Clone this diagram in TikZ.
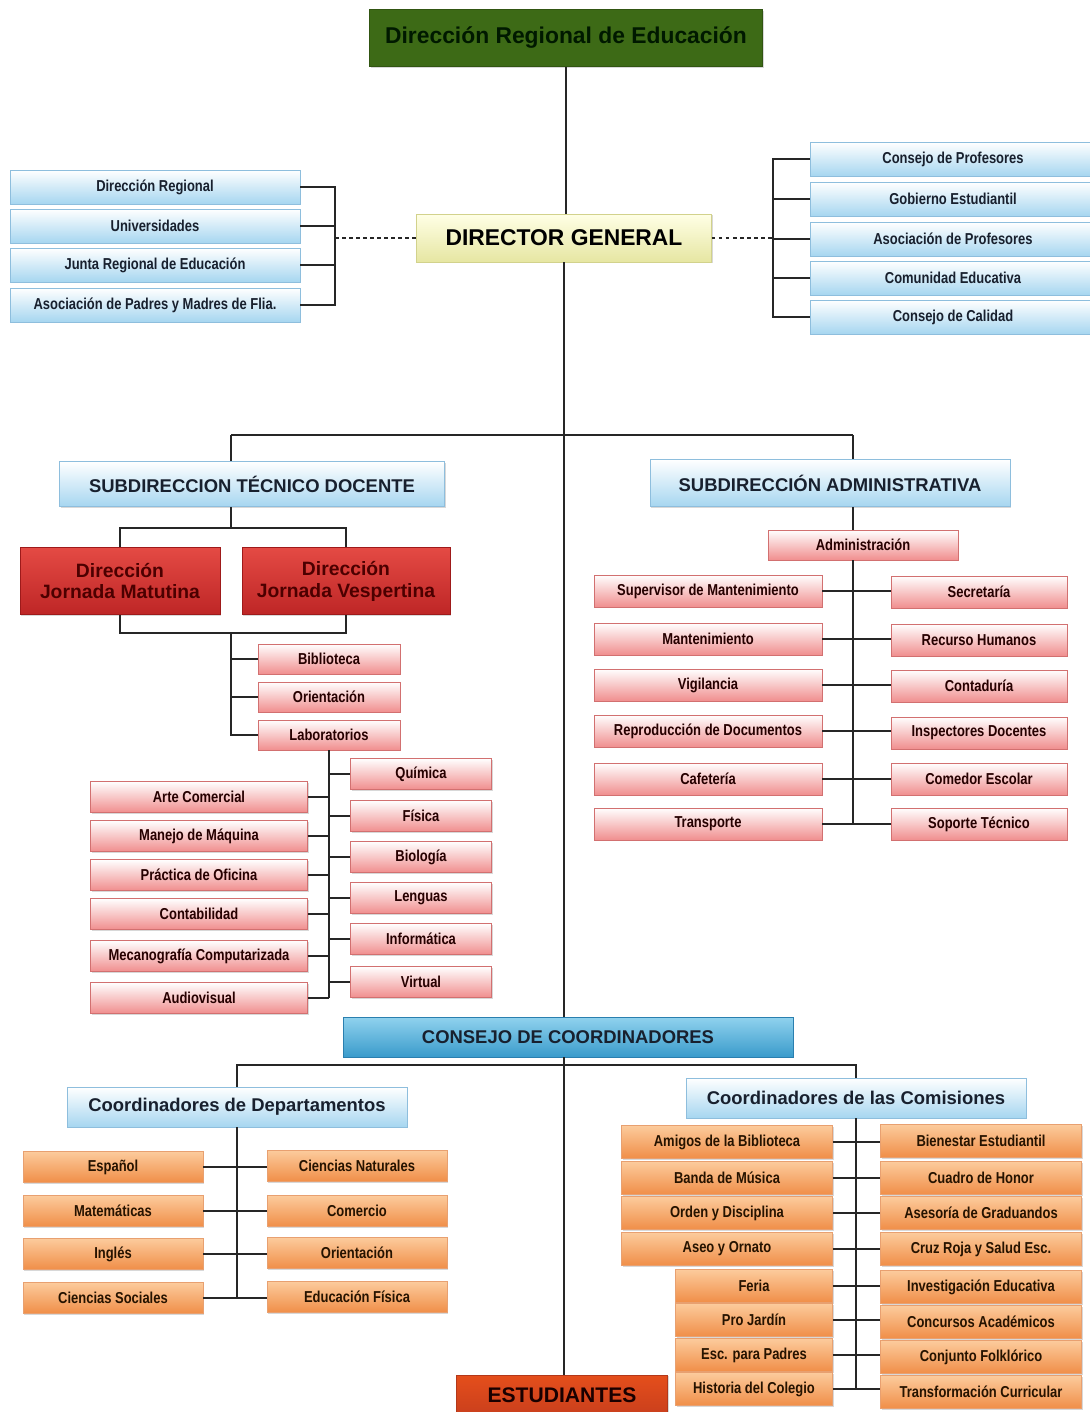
\documentclass[tikz,border=0pt]{standalone}
\usepackage{fontspec}
\setmainfont{Liberation Sans}
\newfontfamily\narrowsf[FakeStretch=0.82]{Liberation Sans}
\usepackage{tikz}
\usetikzlibrary{shadows}

\definecolor{greendark}{HTML}{3D6A16}
\definecolor{greenlight}{HTML}{8CC04A}
\definecolor{yellowlow}{HTML}{E6E6A2}
\definecolor{yellowedge}{HTML}{D2D28C}
\definecolor{skylow}{HTML}{A6D6F0}
\definecolor{skyedge}{HTML}{8EBEDD}
\definecolor{seatop}{HTML}{90D2EE}
\definecolor{sealow}{HTML}{3A9BCB}
\definecolor{seaedge}{HTML}{2A7FAF}
\definecolor{redtop}{HTML}{E44A44}
\definecolor{redlow}{HTML}{BE2626}
\definecolor{rededge}{HTML}{9E1A1A}
\definecolor{pinklow}{HTML}{F08E8E}
\definecolor{pinkedge}{HTML}{D27070}
\definecolor{orangetop}{HTML}{FCCB9C}
\definecolor{orangelow}{HTML}{F08E48}
\definecolor{orangeedge}{HTML}{E8A070}
\definecolor{brick}{HTML}{E04620}
\definecolor{navytext}{HTML}{18202E}

\begin{document}
\begin{tikzpicture}[
  x=0.02cm, y=-0.02cm,
  box/.style={
      rectangle,
      draw,
      text centered,
      align=center,
      inner sep=0pt,
      line width=0.5pt,
      drop shadow={opacity=0.3, shadow xshift=0.8pt, shadow yshift=-0.8pt}
  },
  small/.style={
      box,
      font=\narrowsf\bfseries\fontsize{9}{10}\selectfont
  },
  skybox/.style={
      box,
      draw=skyedge,
      top color=white,
      bottom color=skylow,
      text=navytext
  },
  skysmall/.style={
      skybox,
      small
  },
  pinkbox/.style={
      small,
      draw=pinkedge,
      top color=white,
      bottom color=pinklow,
      text=black!85!red
  },
  orangebox/.style={
      small,
      draw=orangeedge,
      top color=orangetop,
      bottom color=orangelow,
      text=black!85!orange
  },
  redbox/.style={
      box,
      draw=rededge,
      top color=redtop,
      bottom color=redlow,
      text=red!30!black,
      font=\bfseries\fontsize{11}{12.5}\selectfont
  },
  link/.style={
      line width=0.7pt,
      black!85
  },
  dots/.style={
      link,
      dash pattern=on 2pt off 2pt
  }
]

\path[use as bounding box, fill=white] (0,0) rectangle (1089,1412);

% ==================================================
% Top : Regional Office and Director
% ==================================================

\node[
    box,
    draw=greendark!80!black,
    top color=greendark,
    middle color=greenlight,
    bottom color=greendark,
    text=green!10!black,
    minimum width=7.86cm,
    minimum height=1.14cm,
    font=\bfseries\fontsize{13}{15}\selectfont
] (regional) at (566,38)
{Dirección Regional de Educación};

\node[
    box,
    draw=yellowedge,
    top color=white!90!yellow,
    bottom color=yellowlow,
    text=black,
    minimum width=5.9cm,
    minimum height=0.96cm,
    font=\bfseries\fontsize{13}{15}\selectfont
] (director) at (564,238)
{DIRECTOR GENERAL};

% external bodies, left
\node[skysmall, minimum width=5.8cm, minimum height=0.68cm] (dreg) at (155,187) {Dirección Regional};
\node[skysmall, minimum width=5.8cm, minimum height=0.68cm] (univ) at (155,226) {Universidades};
\node[skysmall, minimum width=5.8cm, minimum height=0.68cm] (junta) at (155,265) {Junta Regional de Educación};
\node[skysmall, minimum width=5.8cm, minimum height=0.68cm] (apmf) at (155,305) {Asociación de Padres y Madres de Flia.};

% external bodies, right
\node[skysmall, minimum width=5.7cm, minimum height=0.68cm] (cprof) at (953,159) {Consejo de Profesores};
\node[skysmall, minimum width=5.7cm, minimum height=0.68cm] (gobest) at (953,199) {Gobierno Estudiantil};
\node[skysmall, minimum width=5.7cm, minimum height=0.68cm] (aprof) at (953,239) {Asociación de Profesores};
\node[skysmall, minimum width=5.7cm, minimum height=0.68cm] (comedu) at (953,278) {Comunidad Educativa};
\node[skysmall, minimum width=5.7cm, minimum height=0.68cm] (ccal) at (953,317) {Consejo de Calidad};

% ==================================================
% Left Side : Subdireccion Tecnico Docente
% ==================================================

\node[
    skybox,
    minimum width=7.7cm,
    minimum height=0.9cm,
    font=\bfseries\fontsize{10.5}{12}\selectfont
] (subtec) at (252,484)
{SUBDIRECCION TÉCNICO DOCENTE};

\node[
    redbox,
    minimum width=4.0cm,
    minimum height=1.34cm
] (matutina) at (120,581)
{Dirección\\Jornada Matutina};

\node[
    redbox,
    minimum width=4.16cm,
    minimum height=1.34cm
] (vespertina) at (346,581)
{Dirección\\Jornada Vespertina};

\node[pinkbox, minimum width=2.84cm, minimum height=0.6cm] (biblio) at (329,659) {Biblioteca};
\node[pinkbox, minimum width=2.84cm, minimum height=0.6cm] (orient) at (329,697) {Orientación};
\node[pinkbox, minimum width=2.84cm, minimum height=0.6cm] (labs) at (329,735) {Laboratorios};

% workshops
\node[pinkbox, minimum width=4.34cm, minimum height=0.62cm] (arte) at (199,797) {Arte Comercial};
\node[pinkbox, minimum width=4.34cm, minimum height=0.62cm] (manejo) at (199,836) {Manejo de Máquina};
\node[pinkbox, minimum width=4.34cm, minimum height=0.62cm] (practica) at (199,875) {Práctica de Oficina};
\node[pinkbox, minimum width=4.34cm, minimum height=0.62cm] (contab) at (199,914) {Contabilidad};
\node[pinkbox, minimum width=4.34cm, minimum height=0.62cm] (mecano) at (199,956) {Mecanografía Computarizada};
\node[pinkbox, minimum width=4.34cm, minimum height=0.62cm] (audio) at (199,998) {Audiovisual};

% laboratories
\node[pinkbox, minimum width=2.82cm, minimum height=0.62cm] (quimica) at (421,774) {Química};
\node[pinkbox, minimum width=2.82cm, minimum height=0.62cm] (fisica) at (421,816) {Física};
\node[pinkbox, minimum width=2.82cm, minimum height=0.62cm] (biologia) at (421,857) {Biología};
\node[pinkbox, minimum width=2.82cm, minimum height=0.62cm] (lenguas) at (421,898) {Lenguas};
\node[pinkbox, minimum width=2.82cm, minimum height=0.62cm] (informat) at (421,939) {Informática};
\node[pinkbox, minimum width=2.82cm, minimum height=0.62cm] (virtual) at (421,982) {Virtual};

% ==================================================
% Right Side : Subdireccion Administrativa
% ==================================================

\node[
    skybox,
    minimum width=7.2cm,
    minimum height=0.94cm,
    font=\bfseries\fontsize{10.5}{12}\selectfont
] (subadm) at (830,483)
{SUBDIRECCIÓN ADMINISTRATIVA};

\node[pinkbox, minimum width=3.8cm, minimum height=0.6cm] (admin) at (863,545) {Administración};

\node[pinkbox, minimum width=4.56cm, minimum height=0.64cm] (supmant) at (708,591) {Supervisor de Mantenimiento};
\node[pinkbox, minimum width=4.56cm, minimum height=0.64cm] (mant) at (708,639) {Mantenimiento};
\node[pinkbox, minimum width=4.56cm, minimum height=0.64cm] (vigil) at (708,685) {Vigilancia};
\node[pinkbox, minimum width=4.56cm, minimum height=0.64cm] (reprod) at (708,731) {Reproducción de Documentos};
\node[pinkbox, minimum width=4.56cm, minimum height=0.64cm] (cafet) at (708,779) {Cafetería};
\node[pinkbox, minimum width=4.56cm, minimum height=0.64cm] (transp) at (708,824) {Transporte};

\node[pinkbox, minimum width=3.52cm, minimum height=0.64cm] (secret) at (979,592) {Secretaría};
\node[pinkbox, minimum width=3.52cm, minimum height=0.64cm] (rrhh) at (979,640) {Recurso Humanos};
\node[pinkbox, minimum width=3.52cm, minimum height=0.64cm] (contad) at (979,686) {Contaduría};
\node[pinkbox, minimum width=3.52cm, minimum height=0.64cm] (inspect) at (979,733) {Inspectores Docentes};
\node[pinkbox, minimum width=3.52cm, minimum height=0.64cm] (comedor) at (979,779) {Comedor Escolar};
\node[pinkbox, minimum width=3.52cm, minimum height=0.64cm] (soporte) at (979,824) {Soporte Técnico};

% ==================================================
% Bottom : Consejo de Coordinadores
% ==================================================

\node[
    box,
    draw=seaedge,
    top color=seatop,
    bottom color=sealow,
    text=navytext,
    minimum width=9.0cm,
    minimum height=0.8cm,
    font=\bfseries\fontsize{10.5}{12}\selectfont
] (consejo) at (568,1037)
{CONSEJO DE COORDINADORES};

\node[
    skybox,
    minimum width=6.8cm,
    minimum height=0.8cm,
    font=\bfseries\fontsize{10.5}{12}\selectfont
] (coorddep) at (237,1107)
{Coordinadores de Departamentos};

\node[
    skybox,
    minimum width=6.8cm,
    minimum height=0.8cm,
    font=\bfseries\fontsize{10.5}{12}\selectfont
] (coordcom) at (856,1098)
{Coordinadores de las Comisiones};

% departments
\node[orangebox, minimum width=3.6cm, minimum height=0.62cm] (espanol) at (113,1167) {Español};
\node[orangebox, minimum width=3.6cm, minimum height=0.62cm] (matem) at (113,1211) {Matemáticas};
\node[orangebox, minimum width=3.6cm, minimum height=0.62cm] (ingles) at (113,1254) {Inglés};
\node[orangebox, minimum width=3.6cm, minimum height=0.62cm] (csoc) at (113,1298) {Ciencias Sociales};

\node[orangebox, minimum width=3.6cm, minimum height=0.62cm] (cnat) at (357,1166) {Ciencias Naturales};
\node[orangebox, minimum width=3.6cm, minimum height=0.62cm] (comercio) at (357,1211) {Comercio};
\node[orangebox, minimum width=3.6cm, minimum height=0.62cm] (orientd) at (357,1253) {Orientación};
\node[orangebox, minimum width=3.6cm, minimum height=0.62cm] (edfis) at (357,1297) {Educación Física};

% commissions
\node[orangebox, minimum width=4.22cm, minimum height=0.66cm] (amigos) at (727,1142) {Amigos de la Biblioteca};
\node[orangebox, minimum width=4.22cm, minimum height=0.66cm] (banda) at (727,1178) {Banda de Música};
\node[orangebox, minimum width=4.22cm, minimum height=0.66cm] (orden) at (727,1213) {Orden y Disciplina};
\node[orangebox, minimum width=4.22cm, minimum height=0.66cm] (aseo) at (727,1249) {Aseo y Ornato};
\node[orangebox, minimum width=3.14cm, minimum height=0.66cm] (feria) at (754,1286) {Feria};
\node[orangebox, minimum width=3.14cm, minimum height=0.66cm] (projardin) at (754,1320) {Pro Jardín};
\node[orangebox, minimum width=3.14cm, minimum height=0.66cm] (escpadres) at (754,1355) {Esc. para Padres};
\node[orangebox, minimum width=3.14cm, minimum height=0.66cm] (historia) at (754,1389) {Historia del Colegio};

\node[orangebox, minimum width=4.02cm, minimum height=0.66cm] (bienestar) at (981,1141) {Bienestar Estudiantil};
\node[orangebox, minimum width=4.02cm, minimum height=0.66cm] (cuadro) at (981,1178) {Cuadro de Honor};
\node[orangebox, minimum width=4.02cm, minimum height=0.66cm] (asesoria) at (981,1213) {Asesoría de Graduandos};
\node[orangebox, minimum width=4.02cm, minimum height=0.66cm] (cruz) at (981,1249) {Cruz Roja y Salud Esc.};
\node[orangebox, minimum width=4.02cm, minimum height=0.66cm] (investig) at (981,1287) {Investigación Educativa};
\node[orangebox, minimum width=4.02cm, minimum height=0.66cm] (concursos) at (981,1322) {Concursos Académicos};
\node[orangebox, minimum width=4.02cm, minimum height=0.66cm] (conjunto) at (981,1357) {Conjunto Folklórico};
\node[orangebox, minimum width=4.02cm, minimum height=0.66cm] (transform) at (981,1392) {Transformación Curricular};

\node[
    box,
    draw=brick!80!black,
    top color=brick!85!orange,
    bottom color=brick!90!black,
    text=black!90!red,
    minimum width=4.22cm,
    minimum height=0.8cm,
    font=\bfseries\fontsize{12}{14}\selectfont
] (estudiantes) at (562,1395)
{ESTUDIANTES};

% ==================================================
% Connections
% ==================================================

\coordinate (extL) at (335,238);
\coordinate (extR) at (773,238);
\coordinate (busL) at (231,435);
\coordinate (busR) at (853,435);
\coordinate (tecsplit) at (231,528);
\coordinate (jorsplit) at (231,633);
\coordinate (cbus) at (565,1065);

% main line
\draw[link] (regional.south) -- (regional.south |- director.north);
\draw[link] (director.south) -- (director.south |- consejo.north);
\draw[link] (director.south |- consejo.south) -- (director.south |- estudiantes.north);

% external bodies
\draw[link] (dreg.east) -| (extL) |- (apmf.east);
\draw[link] (univ.east) -- (univ.east -| extL);
\draw[link] (junta.east) -- (junta.east -| extL);
\draw[dots] (extL) -- (director.west);

\draw[link] (cprof.west) -| (extR) |- (ccal.west);
\draw[link] (gobest.west) -- (gobest.west -| extR);
\draw[link] (aprof.west) -- (aprof.west -| extR);
\draw[link] (comedu.west) -- (comedu.west -| extR);
\draw[dots] (director.east) -- (extR);

% subdirections
\draw[link] (busL) -- (busR);
\draw[link] (busL) -- (busL |- subtec.north);
\draw[link] (busR) -- (busR |- subadm.north);

% tecnico docente
\draw[link] (busL |- subtec.south) -- (tecsplit);
\draw[link] (matutina.north) |- (tecsplit) -| (vespertina.north);
\draw[link] (matutina.south) |- (jorsplit) -| (vespertina.south);
\draw[link] (jorsplit) |- (labs.west);
\draw[link] (jorsplit |- biblio.west) -- (biblio.west);
\draw[link] (jorsplit |- orient.west) -- (orient.west);

\draw[link] (labs.south) -- (labs.south |- audio.east);
\draw[link] (arte.east) -- (arte.east -| labs.south);
\draw[link] (manejo.east) -- (manejo.east -| labs.south);
\draw[link] (practica.east) -- (practica.east -| labs.south);
\draw[link] (contab.east) -- (contab.east -| labs.south);
\draw[link] (mecano.east) -- (mecano.east -| labs.south);
\draw[link] (audio.east) -- (audio.east -| labs.south);
\draw[link] (quimica.west) -- (quimica.west -| labs.south);
\draw[link] (fisica.west) -- (fisica.west -| labs.south);
\draw[link] (biologia.west) -- (biologia.west -| labs.south);
\draw[link] (lenguas.west) -- (lenguas.west -| labs.south);
\draw[link] (informat.west) -- (informat.west -| labs.south);
\draw[link] (virtual.west) -- (virtual.west -| labs.south);

% administrativa
\draw[link] (busR |- subadm.south) -- (busR |- admin.north);
\draw[link] (busR |- admin.south) -- (busR |- transp.east);
\draw[link] (supmant.east) -- (supmant.east -| secret.west);
\draw[link] (mant.east) -- (mant.east -| rrhh.west);
\draw[link] (vigil.east) -- (vigil.east -| contad.west);
\draw[link] (reprod.east) -- (reprod.east -| inspect.west);
\draw[link] (cafet.east) -- (cafet.east -| comedor.west);
\draw[link] (transp.east) -- (transp.east -| soporte.west);

% coordinators
\draw[link] (coorddep.north) |- (cbus) -| (coordcom.north);

\draw[link] (coorddep.south) -- (coorddep.south |- csoc.east);
\draw[link] (espanol.east) -- (espanol.east -| cnat.west);
\draw[link] (matem.east) -- (matem.east -| comercio.west);
\draw[link] (ingles.east) -- (ingles.east -| orientd.west);
\draw[link] (csoc.east) -- (csoc.east -| edfis.west);

\draw[link] (coordcom.south) -- (coordcom.south |- historia.east);
\draw[link] (amigos.east) -- (amigos.east -| bienestar.west);
\draw[link] (banda.east) -- (banda.east -| cuadro.west);
\draw[link] (orden.east) -- (orden.east -| asesoria.west);
\draw[link] (aseo.east) -- (aseo.east -| cruz.west);
\draw[link] (feria.east) -- (feria.east -| investig.west);
\draw[link] (projardin.east) -- (projardin.east -| concursos.west);
\draw[link] (escpadres.east) -- (escpadres.east -| conjunto.west);
\draw[link] (historia.east) -- (historia.east -| transform.west);

\end{tikzpicture}
\end{document}
